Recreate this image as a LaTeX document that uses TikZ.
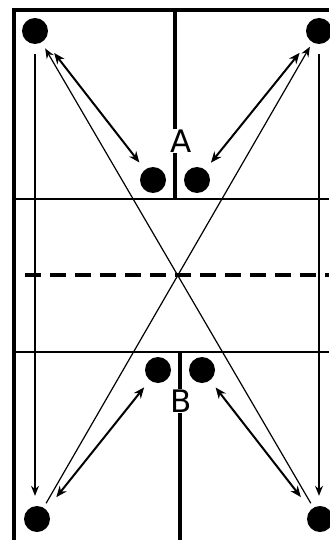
\documentclass[tikz,border=0pt]{standalone}
\usepackage{fontspec}
\setmainfont{DejaVu Sans}
\usetikzlibrary{arrows.meta}
\newcommand*{\dotsz}{26}

\begin{document}
\begin{tikzpicture}[
   x=1pt, y=-1pt,
   player/.style={circle, draw=none, fill=black, inner sep=0, minimum size=\dotsz},
   lbl/.style={fill=white, inner sep=1, font=\fontsize{31}{31}\selectfont},
   wall/.style={line width=3.5},
   court/.style={line width=1.5},
   run/.style={-{Stealth[length=10, width=8]}, line width=1.2},
   pass/.style={{Stealth[length=11, width=9]}-{Stealth[length=11, width=9]}, line width=2}
  ]

  \useasboundingbox (0, 0) rectangle (329, 540);

  % Court
  \draw[wall] (329, 10) -- (14, 10) -- (14, 540);
  \draw[wall] (175, 10) -- (175, 199);
  \draw[wall] (180, 352) -- (180, 540);
  \draw[court] (14, 199) -- (329, 199);
  \draw[court] (14, 352) -- (329, 352);
  \draw[wall, dash pattern=on 16 off 9] (25, 275) -- (329, 275);

  % Players
  \node (TL) at (35, 31) [player] {};
  \node (TR) at (319, 31) [player] {};
  \node (BL) at (37, 519) [player] {};
  \node (BR) at (320, 519) [player] {};

  \node (A1) at (153, 180) [player] {};
  \node (A2) at (197, 180) [player] {};
  \node (B1) at (158, 370) [player] {};
  \node (B2) at (202, 370) [player] {};

  \node (A) at (181, 141) [lbl] {A};
  \node (B) at (181, 401) [lbl] {B};

  % Runs
  \draw[run, shorten <=10, shorten >=10] (TL) -- (TL |- BL.north);
  \draw[run, shorten <=10, shorten >=10] (TR) -- (TR |- BR.north);
  \draw[run, shorten <=5, shorten >=7] (BR) -- (TL);
  \draw[run, shorten <=5, shorten >=5] (BL) -- (TR);

  % Passes
  \foreach \B/\E in {TL.south east/A1, TR.south west/A2, BL.north east/B1, BR.north west/B2} {
    \draw[pass, shorten <=16, shorten >=9] (\B) -- (\E);
  }

\end{tikzpicture}
\end{document}
